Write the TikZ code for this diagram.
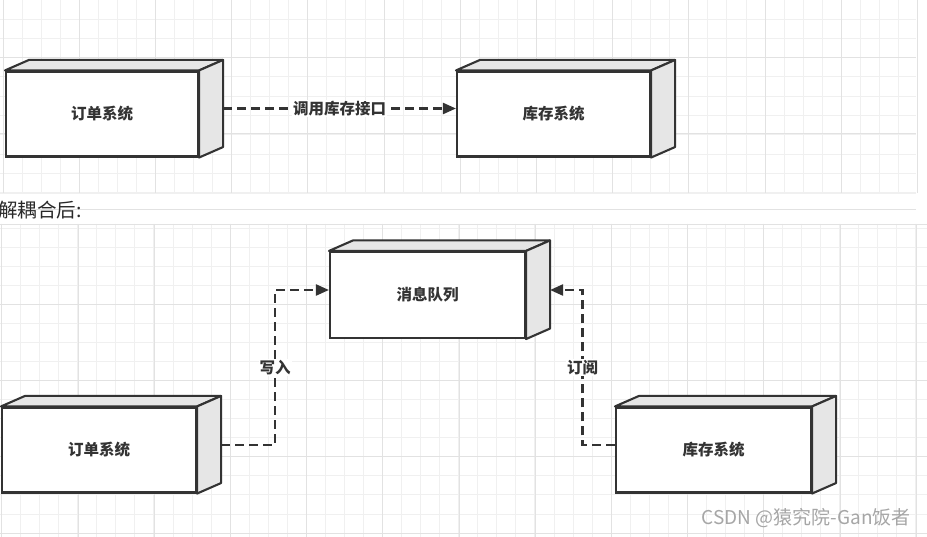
\documentclass[tikz,border=0pt]{standalone}
\usepackage{fontspec}
\newfontfamily\cjk{Noto Sans CJK SC}
\usetikzlibrary{arrows.meta,calc}
\definecolor{ink}{HTML}{333333}
\definecolor{facegray}{HTML}{E6E6E6}
\definecolor{gridminor}{HTML}{F0F0F0}
\definecolor{gridmajor}{HTML}{E2E2E2}
\definecolor{wm}{HTML}{A6A6A6}
\tikzset{
  front/.style={draw=ink, line width=2.1pt, fill=white, minimum width=194pt, minimum height=85pt,
    inner sep=0pt, text=ink, font=\cjk\bfseries\fontsize{15.5}{18}\selectfont},
  face/.style={draw=ink, line width=2.1pt, fill=facegray, line join=round},
  conn/.style={draw=ink, line width=2.2pt, dash pattern=on 9pt off 5pt,
    -{Triangle[length=13pt,width=11pt]}},
  lbl/.style={fill=white, inner sep=1pt, text=ink, font=\cjk\bfseries\fontsize{15.5}{18}\selectfont},
  gminor/.style={draw=gridminor, line width=0.9pt},
  gmajor/.style={draw=gridmajor, line width=0.9pt}
}
\newcommand\cubefaces[1]{%
  \path[face] (#1.north west) -- ++(24,-10.5) -- ($(#1.north east)+(24,-10.5)$) -- (#1.north east) -- cycle;
  \path[face] (#1.north east) -- ++(24,-10.5) -- ($(#1.south east)+(24,-10.5)$) -- (#1.south east) -- cycle;
}
\begin{document}
\begin{tikzpicture}[x=1pt,y=-1pt]
\useasboundingbox[fill=white] (0,0) rectangle (927,537);
% top grid
\foreach \i in {0,...,48} {\draw[gminor] ({3+19.05*\i},0) -- ({3+19.05*\i},193);}
\foreach \i in {1,...,10} {\draw[gminor] (0,{19.3*\i-0.3}) -- (916,{19.3*\i-0.3});}
\foreach \i in {0,...,12} {\draw[gmajor] ({3+76.2*\i},0) -- ({3+76.2*\i},193);}
\foreach \i in {0,1,2} {\draw[gmajor] (0,{57.5+76.2*\i}) -- (916,{57.5+76.2*\i});}
\draw[gminor] (0,193) -- (916,193);
% bottom grid
\foreach \i in {0,...,48} {\draw[gminor] ({1.5+19.05*\i},224) -- ({1.5+19.05*\i},537);}
\foreach \i in {0,...,16} {\draw[gminor] (0,{533-19.05*\i}) -- (927,{533-19.05*\i});}
\foreach \i in {0,...,12} {\draw[gmajor] ({1.8+76.2*\i},224) -- ({1.8+76.2*\i},537);}
\foreach \i in {0,...,3} {\draw[gmajor] (0,{533-76.2*\i}) -- (927,{533-76.2*\i});}
\draw[gmajor] (0,224) -- (927,224);

% top diagram
\node[front, minimum width=192pt] (order1) at (102,114) {订单系统};
\cubefaces{order1}
\node[front, minimum width=193pt] (stock1) at (553.5,114) {库存系统};
\cubefaces{stock1}
\path[conn] ($(order1.east)+(24,-5.5)$) -- node[lbl] {调用库存接口} ($(stock1.west)+(0,-5.5)$);

% caption
\node[anchor=west, inner sep=0pt, text=ink!80!black, font=\cjk\fontsize{19.5}{22}\selectfont] (cap) at (-2,210) {解耦合后:};

% bottom diagram
\node[front, minimum width=195pt, minimum height=86pt] (mq) at (427.5,295) {消息队列};
\cubefaces{mq}
\node[front] (order2) at (99,450) {订单系统};
\cubefaces{order2}
\node[front, minimum width=195pt] (stock2) at (713.5,450) {库存系统};
\cubefaces{stock2}
\coordinate (w1) at ($(order2.east)+(24,-5)$);
\coordinate (w2) at ($(mq.west)+(0,-5)$);
\path[conn] (w1) -| ($(w1)!.5!(w2)$) node[lbl] {写入} |- (w2);
\coordinate (s1) at ($(stock2.west)+(0,-5)$);
\coordinate (s2) at ($(mq.east)+(24,-5)$);
\path[conn] (s1) -| ($(s1)!.5!(s2)$) node[lbl] {订阅} |- (s2);

% watermark
\node[anchor=east, inner sep=0pt, text=wm, font=\cjk\fontsize{19}{21}\selectfont] (wmark) at (911,518) {CSDN @猿究院-Gan饭者};
\end{tikzpicture}
\end{document}
